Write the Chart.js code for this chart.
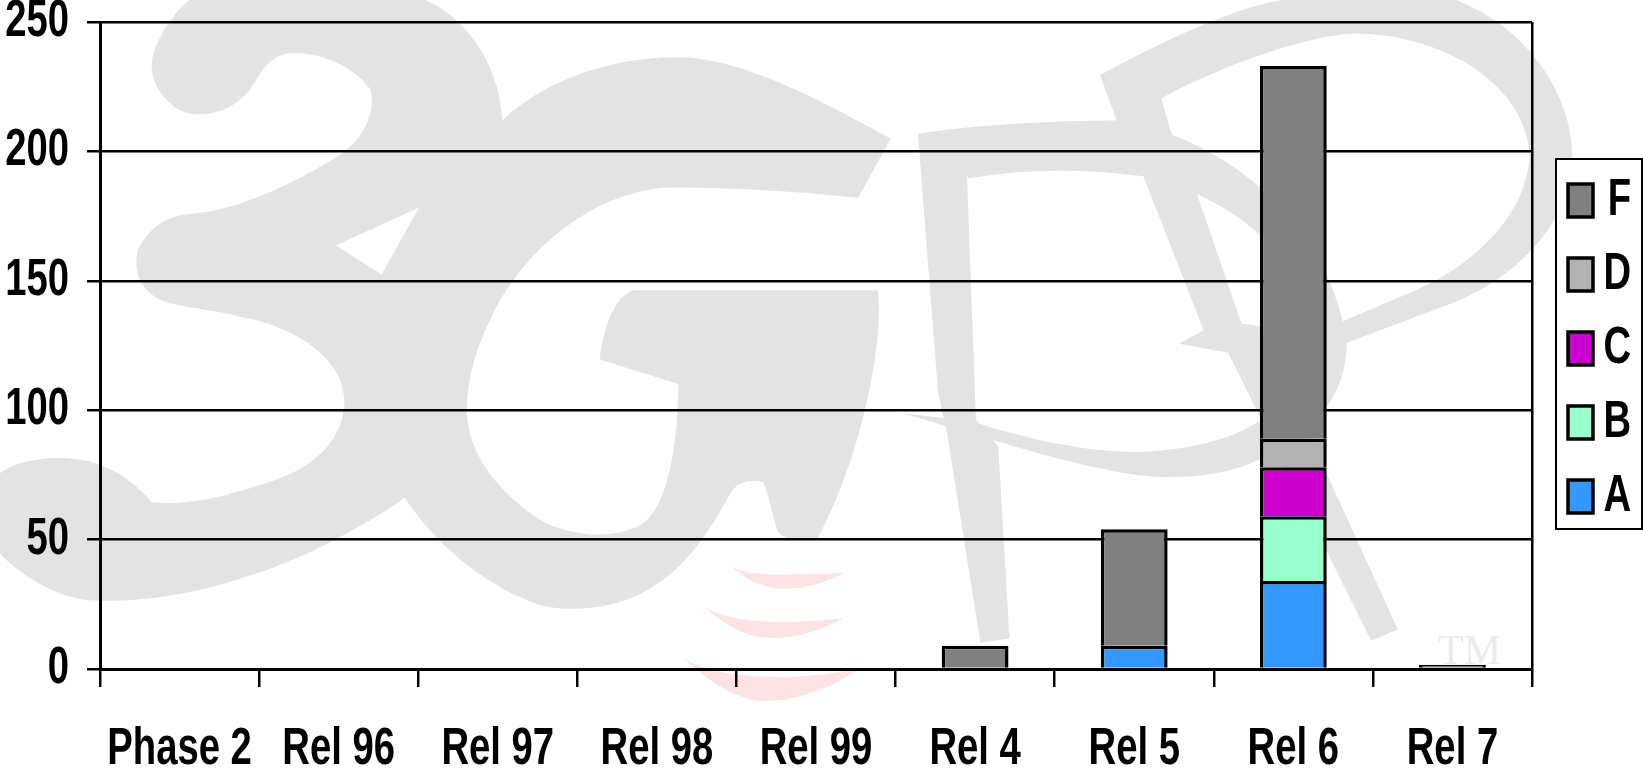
<!DOCTYPE html>
<html>
<head>
<meta charset="utf-8">
<title>3GPP specifications per release</title>
<script src="https://cdn.jsdelivr.net/npm/chart.js@4/dist/chart.umd.min.js"></script>
<style>
	body { margin: 0; background: #fff; }
	canvas { display: block; }
</style>
</head>
<body>
<canvas id="myChart" width="1643" height="772"></canvas>
<script>
var categories = ["Phase 2", "Rel 96", "Rel 97", "Rel 98", "Rel 99", "Rel 4", "Rel 5", "Rel 6", "Rel 7"];
var seriesA = [0, 0, 0, 0, 0, 0, 9, 34, 0];
var seriesB = [0, 0, 0, 0, 0, 0, 0, 25, 0];
var seriesC = [0, 0, 0, 0, 0, 0, 0, 19, 0];
var seriesD = [0, 0, 0, 0, 0, 0, 0, 11, 0];
var seriesF = [0, 0, 0, 0, 0, 9, 45, 144, 1.5];
var barColors = ["#3399ff", "#99ffcc", "#cc00cc", "#b2b2b2", "#808080"];

var fontFamily = "'Liberation Sans', Arial, sans-serif";
var textSqueeze = 0.75;

// logo behind the chart, outlines
var logo3G = "M330 0 L740 0 C800 30 870 130 875 270 C930 200 1040 128 1180 128 C1300 128 1450 240 1552 310 L1495 443 " +
	"C1400 430 1280 420 1170 420 C1040 425 920 550 860 700 C825 790 815 850 813 920 C815 1020 870 1100 930 1155 " +
	"C980 1200 1060 1210 1110 1180 C1160 1150 1180 1020 1182 860 L1045 805 C1050 740 1070 660 1105 650 L1530 650 " +
	"C1540 800 1490 1050 1425 1205 C1400 1215 1365 1210 1355 1190 C1345 1150 1340 1110 1330 1080 C1310 1075 1290 1075 1275 1100 " +
	"C1240 1180 1200 1270 1130 1320 C1080 1360 1000 1375 940 1355 C860 1320 770 1240 705 1115 C640 1175 520 1260 420 1295 " +
	"C340 1330 240 1350 160 1345 C90 1340 20 1270 0 1240 L0 1060 C30 1030 100 1015 160 1035 C210 1055 240 1090 265 1125 " +
	"C340 1135 420 1100 480 1075 C560 1040 600 970 600 900 C600 800 510 730 420 710 C370 690 290 690 265 660 " +
	"C235 630 235 590 240 560 C260 510 290 480 340 478 C420 470 530 400 600 340 C640 300 655 240 645 200 " +
	"C620 150 550 110 500 120 C460 130 450 180 430 210 C400 250 350 270 310 245 C270 210 255 160 270 110 C285 60 310 20 330 0 Z " +
	"M585 550 L730 465 L665 615 Z";
var logoPP = [
	"M85 300 L190 290 L195 400 L215 940 L265 1000 L290 1430 L225 1440 L150 970 L130 880 Z",
	"M85 300 C200 280 400 270 530 270 C750 300 1000 480 1045 760 C1050 900 950 980 850 1030 C750 1075 620 1080 500 1050 " +
		"C400 1030 300 1000 50 925 L210 945 C350 990 500 1020 620 1010 C750 1000 850 960 900 900 C950 840 960 700 880 560 " +
		"C820 480 700 420 590 395 C450 375 300 380 200 400 Z",
	"M493 168 L630 220 L650 290 L705 420 L810 725 L850 730 L1000 1060 L1160 1410 L1100 1435 L780 790 L670 770 L725 740 L590 395 L530 270 Z",
	"M493 168 C620 100 780 20 900 0 L1290 0 C1450 60 1560 220 1550 370 C1540 500 1430 620 1280 680 L1040 770 L1035 720 L1200 650 " +
		"C1340 590 1455 470 1455 340 C1440 180 1250 75 1060 75 C950 80 760 150 630 220 Z"
];
var logoWaves = [
	"M270 75 C320 110 380 105 610 100 C540 140 430 160 370 135 C330 125 300 100 270 75 Z",
	"M185 195 C240 240 400 260 610 235 C530 280 420 310 330 285 C270 265 220 225 185 195 Z",
	"M130 355 C200 400 400 440 660 385 C580 440 460 495 340 480 C250 460 180 400 130 355 Z"
];

// the labels in the picture are a squeezed bold Arial, no narrow font is installed
var nativeFillText = CanvasRenderingContext2D.prototype.fillText;
var squeezeText = function(text, x, y) {
	this.save();
	this.translate(x, y);
	this.scale(textSqueeze, 1);
	nativeFillText.call(this, text, 0, 0);
	this.restore();
};

var backgroundPlugin = {
	id: "background",
	beforeDraw: function(chart) {
		var ctx = chart.ctx;
		ctx.fillText = squeezeText;
		ctx.save();
		ctx.fillStyle = "#e3e3e3";
		ctx.save();
		ctx.scale(900 / 1568, 700 / 1568);
		ctx.fill(new Path2D(logo3G), "evenodd");
		ctx.restore();
		ctx.save();
		ctx.translate(880, 0);
		ctx.scale(700 / 1568, 700 / 1568);
		logoPP.forEach(function(p) { ctx.fill(new Path2D(p)); });
		ctx.restore();
		ctx.save();
		ctx.fillStyle = "#fde3e3";
		ctx.translate(640, 540);
		ctx.scale(1 / 3, 1 / 3);
		logoWaves.forEach(function(p) { ctx.fill(new Path2D(p)); });
		ctx.restore();
		ctx.fillStyle = "#ebebeb";
		ctx.font = "42px 'Liberation Serif'";
		nativeFillText.call(ctx, "TM", 1438, 664);

		// legend frame, chart.js has no box for this
		ctx.fillStyle = "#fff";
		ctx.strokeStyle = "#000";
		ctx.lineWidth = 2;
		ctx.fillRect(1556, 159, 86, 370);
		ctx.strokeRect(1556, 159, 86, 370);
		ctx.restore();

		var legend = chart.legend;
		legend.left = 1545;
		legend.top = 152;
		legend.right = 1631;
		legend.bottom = 640;
	}
};

new Chart("myChart", {
	type: "bar",
	data: {
		labels: categories,
		datasets: [
			{ label: "A", data: seriesA, backgroundColor: barColors[0] },
			{ label: "B", data: seriesB, backgroundColor: barColors[1] },
			{ label: "C", data: seriesC, backgroundColor: barColors[2] },
			{ label: "D", data: seriesD, backgroundColor: barColors[3] },
			{ label: "F", data: seriesF, backgroundColor: barColors[4] }
		]
	},
	plugins: [backgroundPlugin],
	options: {
		responsive: false,
		animation: false,
		devicePixelRatio: 1,
		layout: {
			autoPadding: false,
			padding: { top: 22, right: 111, bottom: 0, left: 0 }
		},
		datasets: {
			bar: {
				stack: "all",
				barPercentage: 0.42,
				categoryPercentage: 1,
				borderColor: "#000",
				borderWidth: 3.5,
				inflateAmount: 0
			}
		},
		scales: {
			x: {
				stacked: true,
				afterFit: function(scale) {
					scale.height = 103;
					scale.paddingLeft = 0;
					scale.paddingRight = 0;
				},
				grid: {
					offset: true,
					// only the last boundary runs up through the plot
					color: function(c) { return c.type === "scale" ? "#000" : "rgba(0,0,0,0)"; },
					tickColor: "#000",
					lineWidth: 2.5,
					tickLength: 18
				},
				border: { color: "#000", width: 3 },
				ticks: {
					color: "#000",
					padding: 32,
					maxRotation: 0,
					autoSkip: false,
					font: { family: fontFamily, size: 51, weight: "bold" }
				}
			},
			y: {
				stacked: true,
				min: 0,
				max: 250,
				afterFit: function(scale) {
					scale.width = 100;
					scale.paddingTop = 0;
					scale.paddingBottom = 0;
				},
				grid: {
					color: "#000",
					lineWidth: 2.5,
					tickLength: 13
				},
				border: { color: "#000", width: 3 },
				ticks: {
					color: "#000",
					stepSize: 50,
					padding: 18,
					font: { family: fontFamily, size: 51, weight: "bold" }
				}
			}
		},
		plugins: {
			title: { display: false },
			tooltip: { enabled: false },
			legend: {
				position: "chartArea",
				align: "start",
				reverse: true,
				labels: {
					color: "#000",
					boxWidth: 25,
					boxHeight: 33,
					padding: 23,
					textAlign: "right",
					font: { family: fontFamily, size: 51, weight: "bold" }
				}
			}
		}
	}
});
</script>
</body>
</html>
